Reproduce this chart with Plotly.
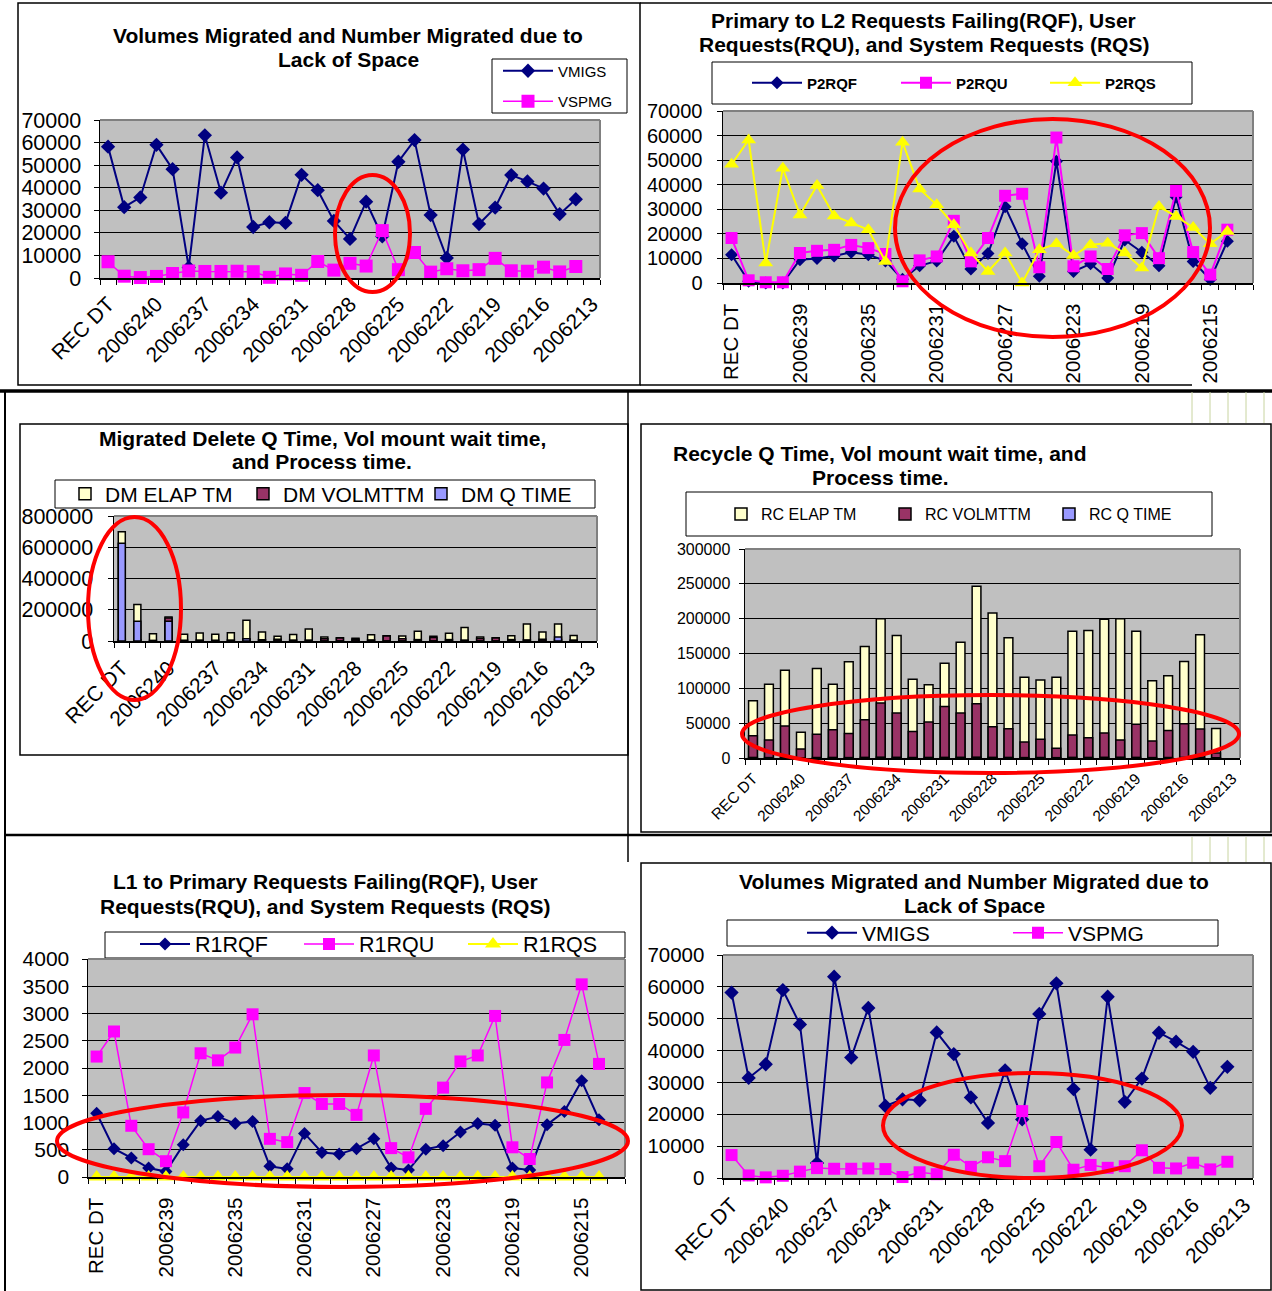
import plotly.graph_objects as go

W, H = 1272, 1291
FONT = "Liberation Sans, Arial, sans-serif"
NAVY, MAG, YEL = "#000080", "#FF00FF", "#FFFF00"

# ---------------- data ----------------
categories = ["REC DT", "2006242", "2006241", "2006240", "2006239", "2006238", "2006237",
              "2006236", "2006235", "2006234", "2006233", "2006232", "2006231", "2006230",
              "2006229", "2006228", "2006227", "2006226", "2006225", "2006224", "2006223",
              "2006222", "2006221", "2006220", "2006219", "2006218", "2006217", "2006216",
              "2006215", "2006214", "2006213"]
x_pts = categories[:30]
labels_every3 = ["REC DT", "2006240", "2006237", "2006234", "2006231", "2006228",
                 "2006225", "2006222", "2006219", "2006216", "2006213"]
labels_every4 = ["REC DT", "2006239", "2006235", "2006231", "2006227", "2006223",
                 "2006219", "2006215"]

vmigs = [58200, 31400, 35700, 59000, 48200, 4700, 63200, 37800, 53400, 22600,
         24700, 24400, 45700, 38900, 25300, 17300, 33800, 18400, 51500, 61100,
         27900, 8900, 56900, 23900, 31200, 45600, 42800, 39600, 28300, 34900]
vspmg = [7200, 800, 200, 700, 2000, 3100, 2900, 2900, 3000, 2800,
         300, 1800, 1200, 7300, 3500, 6500, 5300, 21000, 3700, 11300,
         2600, 4100, 3200, 3700, 8700, 3200, 3000, 4800, 2700, 5100]

p2rqf = [11500, 700, 0, 0, 9500, 10000, 11000, 12500, 11500, 9000,
         1500, 7000, 9000, 19000, 5700, 12000, 31000, 16000, 2700, 49500,
         4700, 7800, 2000, 17500, 12500, 7000, 35000, 8800, 1400, 17000]
p2rqu = [18300, 1100, 300, 300, 12200, 13100, 13500, 15500, 14200, 11800,
         700, 9200, 10800, 25300, 8800, 18300, 35500, 36300, 6400, 59200,
         6800, 10800, 5700, 19400, 20300, 10100, 37500, 12600, 3400, 21700]
p2rqs = [48300, 58200, 8100, 46700, 27700, 39700, 27300, 24400, 21700, 8800,
         57300, 38300, 31800, 23700, 12200, 4700, 12200, 0, 13500, 16000,
         11200, 15600, 16200, 12200, 6100, 31100, 27100, 22600, 16000, 21000]

dm_elap = [700000, 233000, 47000, 154000, 43000, 51000, 43000, 53000, 133000, 58000,
           30000, 41000, 77000, 26000, 21000, 17000, 40000, 34000, 32000, 62000,
           30000, 49000, 86000, 26000, 21000, 34000, 109000, 58000, 109000, 36000]
dm_volmttm = [10000, 8000, 4000, 148000, 5000, 6000, 5000, 6000, 10000, 8000,
              12000, 6000, 6000, 14000, 19000, 12000, 7000, 32000, 15000, 9000,
              22000, 9000, 6000, 16000, 19000, 9000, 7000, 12000, 9000, 6000]
dm_qtime = [625000, 126000, 0, 126000, 0, 0, 0, 0, 15000, 0,
            0, 0, 0, 0, 0, 0, 0, 0, 0, 0,
            0, 0, 0, 0, 0, 0, 0, 0, 25000, 0]

rc_elap = [82000, 106000, 126000, 37000, 128500, 106000, 138000, 160000, 200000, 176000,
           113000, 105000, 136000, 166000, 246500, 208000, 172500, 116000, 112000, 116000,
           182000, 183000, 199000, 200000, 182000, 111000, 118000, 138500, 177000, 42500]
rc_volmttm = [32000, 26000, 46000, 13000, 34000, 40500, 35000, 55000, 79000, 64500,
              38000, 51500, 74000, 64500, 78000, 45000, 42000, 23000, 27000, 14000,
              33000, 29000, 36000, 26000, 48500, 24500, 39500, 49000, 41500, 7000]
rc_qtime = [800, 600, 900, 300, 700, 800, 600, 900, 1200, 1000,
            700, 800, 900, 1000, 1200, 900, 800, 600, 700, 500,
            900, 800, 1000, 1100, 900, 600, 700, 800, 900, 400]

r1rqf = [1170, 520, 350, 165, 100, 590, 1030, 1110, 980, 1020,
         195, 150, 800, 450, 420, 520, 700, 165, 130, 510,
         575, 825, 980, 950, 165, 130, 960, 1200, 1765, 1050]
r1rqu = [2210, 2670, 940, 510, 290, 1185, 2270, 2140, 2375, 2985,
         700, 640, 1540, 1340, 1340, 1140, 2230, 530, 360, 1250,
         1640, 2120, 2230, 2955, 545, 330, 1735, 2515, 3535, 2075]
r1rqs = [0] * 30


# ---------------- helpers ----------------
def dx(x0, x1):
    return [x0 / W, x1 / W]


def dy(y0, y1):
    return [1 - y1 / H, 1 - y0 / H]


def px(x):
    return x / W


def py(y):
    return 1 - y / H


def xaxis_cfg(domain, anchor, labels, angle, size, standoff):
    return dict(domain=domain, anchor=anchor, type="category",
                categoryorder="array", categoryarray=categories,
                tickmode="array", tickvals=categories,
                ticktext=[c if c in labels else "" for c in categories],
                tickangle=angle, tickfont=dict(size=size, color="black", family=FONT),
                ticks="outside", ticklen=5, tickcolor="black", tickwidth=1,
                tickson="boundaries", ticklabelstandoff=standoff,
                showline=True, linecolor="black", linewidth=1.5, automargin=False,
                showgrid=False, zeroline=False, range=[-0.5, 30.5], fixedrange=True)


def yaxis_cfg(domain, anchor, rng, dtick, size, standoff):
    return dict(domain=domain, anchor=anchor, range=rng, tickmode="linear", tick0=0, dtick=dtick,
                tickformat="d",
                tickfont=dict(size=size, color="black", family=FONT),
                ticks="outside", ticklen=5, tickcolor="black", automargin=False,
                showline=True, linecolor="black", linewidth=1.5,
                showgrid=True, gridcolor="black", gridwidth=1, zeroline=False,
                ticklabelstandoff=standoff, fixedrange=True)


fig = go.Figure()


def line_trace(y, name, color, symbol, size, xa, ya, leg, lw=2):
    fig.add_trace(go.Scatter(
        x=x_pts, y=y, name=name, mode="lines+markers",
        line=dict(color=color, width=lw),
        marker=dict(symbol=symbol, size=size, color=color, line=dict(width=0)),
        xaxis=xa, yaxis=ya, legend=leg, legendgroup=leg + name, cliponaxis=False,
        hoverinfo="skip"))


def bar_trace(y, name, color, width, xa, ya, leg):
    fig.add_trace(go.Bar(
        x=x_pts, y=y, name=name, width=width,
        marker=dict(color=color, line=dict(color="black", width=1.5)),
        xaxis=xa, yaxis=ya, legend=leg, hoverinfo="skip"))


# Panel 1: Volumes migrated (top-left)
line_trace(vmigs, "VMIGS", NAVY, "diamond", 11, "x", "y", "legend")
line_trace(vspmg, "VSPMG", MAG, "square", 13, "x", "y", "legend", lw=1.5)

# Panel 2: Primary to L2
line_trace(p2rqf, "P2RQF", NAVY, "diamond", 10, "x2", "y2", "legend2")
line_trace(p2rqu, "P2RQU", MAG, "square", 12, "x2", "y2", "legend2")
line_trace(p2rqs, "P2RQS", YEL, "triangle-up", 13, "x2", "y2", "legend2")

# Panel 3: Migrated delete (bars)
bar_trace(dm_elap, "DM ELAP TM", "#FFFFCC", 0.45, "x3", "y3", "legend3")
bar_trace(dm_volmttm, "DM VOLMTTM", "#993366", 0.45, "x3", "y3", "legend3")
bar_trace(dm_qtime, "DM Q TIME", "#9999FF", 0.45, "x3", "y3", "legend3")

# Panel 4: Recycle (bars)
bar_trace(rc_elap, "RC ELAP TM", "#FFFFCC", 0.55, "x4", "y4", "legend4")
bar_trace(rc_volmttm, "RC VOLMTTM", "#993366", 0.55, "x4", "y4", "legend4")
bar_trace(rc_qtime, "RC Q TIME", "#9999FF", 0.55, "x4", "y4", "legend4")

# Panel 5: L1 to Primary
line_trace(r1rqf, "R1RQF", NAVY, "diamond", 10, "x5", "y5", "legend5")
line_trace(r1rqu, "R1RQU", MAG, "square", 12, "x5", "y5", "legend5", lw=1.5)
line_trace(r1rqs, "R1RQS", YEL, "triangle-up", 14, "x5", "y5", "legend5")

# Panel 6: Volumes migrated (bottom-right)
line_trace(vmigs, "VMIGS", NAVY, "diamond", 11, "x6", "y6", "legend6")
line_trace(vspmg, "VSPMG", MAG, "square", 12, "x6", "y6", "legend6", lw=1.5)

# ---------------- axes ----------------
layout = dict(
    width=W, height=H, autosize=False,
    margin=dict(l=0, r=0, t=0, b=0, pad=0, autoexpand=False),
    paper_bgcolor="white", plot_bgcolor="#C0C0C0",
    barmode="overlay", hovermode=False,
    font=dict(family=FONT, color="black"),
    xaxis=xaxis_cfg(dx(100, 600), "y", labels_every3, -45, 21, 4),
    yaxis=yaxis_cfg(dy(120, 278), "x", [0, 70000], 10000, 21.5, 8),
    xaxis2=xaxis_cfg(dx(723, 1253), "y2", labels_every4, -90, 20.5, 11),
    yaxis2=yaxis_cfg(dy(111, 283), "x2", [0, 70000], 10000, 20, 10),
    xaxis3=xaxis_cfg(dx(114, 597), "y3", labels_every3, -45, 21, 5),
    yaxis3=yaxis_cfg(dy(516, 641), "x3", [0, 800000], 200000, 21.5, 10),
    xaxis4=xaxis_cfg(dx(745, 1240), "y4", labels_every3, -45, 15.5, 4),
    yaxis4=yaxis_cfg(dy(549, 758), "x4", [0, 300000], 50000, 16, 5),
    xaxis5=xaxis_cfg(dx(88, 625), "y5", labels_every4, -90, 20.5, 11),
    yaxis5=yaxis_cfg(dy(959, 1177), "x5", [0, 4000], 500, 21, 8),
    xaxis6=xaxis_cfg(dx(723, 1253), "y6", labels_every3, -45, 21, 5),
    yaxis6=yaxis_cfg(dy(955, 1178), "x6", [0, 70000], 10000, 20.5, 8),
)


def legend_cfg(x, y, size, orient, bold=False, entrywidth=None, gap=0, iw=50):
    d = dict(x=px(x), y=py(y), xanchor="left", yanchor="middle", orientation=orient,
             bgcolor="rgba(0,0,0,0)", borderwidth=0,
             font=dict(size=size, family=FONT, color="black",
                       weight="bold" if bold else "normal"),
             itemwidth=iw, tracegroupgap=gap, itemclick=False, itemdoubleclick=False)
    if entrywidth:
        d["entrywidth"] = entrywidth
        d["entrywidthmode"] = "pixels"
    return d


layout["legend"] = legend_cfg(498, 86, 15, "v", gap=8)
layout["legend2"] = legend_cfg(747, 83, 15, "h", bold=True, entrywidth=84)
layout["legend3"] = legend_cfg(65, 494, 21, "h", entrywidth=133, iw=30)
layout["legend4"] = legend_cfg(721, 514, 16, "h", entrywidth=119, iw=30)
layout["legend5"] = legend_cfg(135, 944, 21.5, "h", entrywidth=99)
layout["legend6"] = legend_cfg(802, 933, 21, "h", entrywidth=141)
fig.update_layout(**layout)

# ---------------- titles (one annotation per line) ----------------
titles = [
    ("Volumes Migrated and Number Migrated due to", 348, 36),
    ("Lack of Space", 348, 60),
    ("Primary to L2 Requests Failing(RQF), User", 924, 21),
    ("Requests(RQU), and System Requests (RQS)", 924, 45),
    ("Migrated Delete Q Time, Vol mount wait time,", 322, 438),
    ("and Process time.", 322, 462),
    ("Recycle Q Time, Vol mount wait time, and", 880, 453),
    ("Process time.", 880, 478),
    ("L1 to Primary Requests Failing(RQF), User", 325, 881),
    ("Requests(RQU), and System Requests (RQS)", 325, 906),
    ("Volumes Migrated and Number Migrated due to", 974, 881),
    ("Lack of Space", 974, 905),
]
for text, x, y in titles:
    fig.add_annotation(text="<b>" + text + "</b>", x=px(x), y=py(y), xref="paper", yref="paper",
                       xanchor="center", yanchor="middle", showarrow=False,
                       font=dict(size=21, family=FONT, color="black"), align="center")

# ---------------- shapes: panel borders, legend boxes, plot borders, ellipses ----------------
shapes = []


def rect(x0, y0, x1, y1, color="black", width=1.5):
    shapes.append(dict(type="rect", xref="paper", yref="paper", x0=px(x0), x1=px(x1),
                       y0=py(y1), y1=py(y0), line=dict(color=color, width=width),
                       fillcolor="rgba(0,0,0,0)", layer="above"))


def line(x0, y0, x1, y1, color="black", width=1.5):
    shapes.append(dict(type="line", xref="paper", yref="paper", x0=px(x0), x1=px(x1),
                       y0=py(y0), y1=py(y1), line=dict(color=color, width=width), layer="above"))


def ellipse(x0, y0, x1, y1):
    shapes.append(dict(type="circle", xref="paper", yref="paper", x0=px(x0), x1=px(x1),
                       y0=py(y1), y1=py(y0), line=dict(color="#FF0000", width=4),
                       fillcolor="rgba(0,0,0,0)", layer="above"))


# page panel lines
rect(18, 3, 640, 385)
line(640, 3, 1272, 3)
line(640, 385, 1192, 385)
line(0, 391, 1272, 391, width=3.5)
line(5, 391, 5, 1291, width=2)
line(628, 391, 628, 862, width=1.5)
rect(20, 424, 628, 755)
rect(641, 424, 1271, 832)
line(5, 835, 1272, 835, width=2.5)
rect(641, 863, 1271, 1290)
for gx in (1192, 1210, 1228, 1246, 1264):
    line(gx, 392, gx, 423, color="#C8D4A0", width=1)
    line(gx, 837, gx, 862, color="#C8D4A0", width=1)

# legend boxes
rect(492, 59, 627, 113, width=1)
rect(712, 62, 1192, 104, width=1)
rect(55, 480, 595, 508, width=1)
rect(686, 492, 1212, 536, width=1)
rect(105, 932, 625, 958, width=1)
rect(727, 920, 1218, 946, width=1)

# plot area top/right gray borders
for (x0, y0, x1, y1) in [(100, 120, 600, 278), (723, 111, 1253, 283), (114, 516, 597, 641),
                         (745, 549, 1240, 758), (88, 959, 625, 1177), (723, 955, 1253, 1178)]:
    line(x0, y0, x1, y0, color="#808080", width=2)
    line(x1, y0, x1, y1, color="#808080", width=2)

# red ellipses
ellipse(335, 175, 410, 292)
ellipse(895, 119, 1210, 337)
ellipse(88, 517, 181, 700)
ellipse(742, 695, 1239, 773)
ellipse(57, 1095, 628, 1187)
ellipse(883, 1073, 1182, 1178)

fig.update_layout(shapes=shapes)

fig.write_html("out.html", config={"displayModeBar": False, "staticPlot": True},
               post_script="document.body.style.margin='0';document.body.style.overflow='hidden';")
